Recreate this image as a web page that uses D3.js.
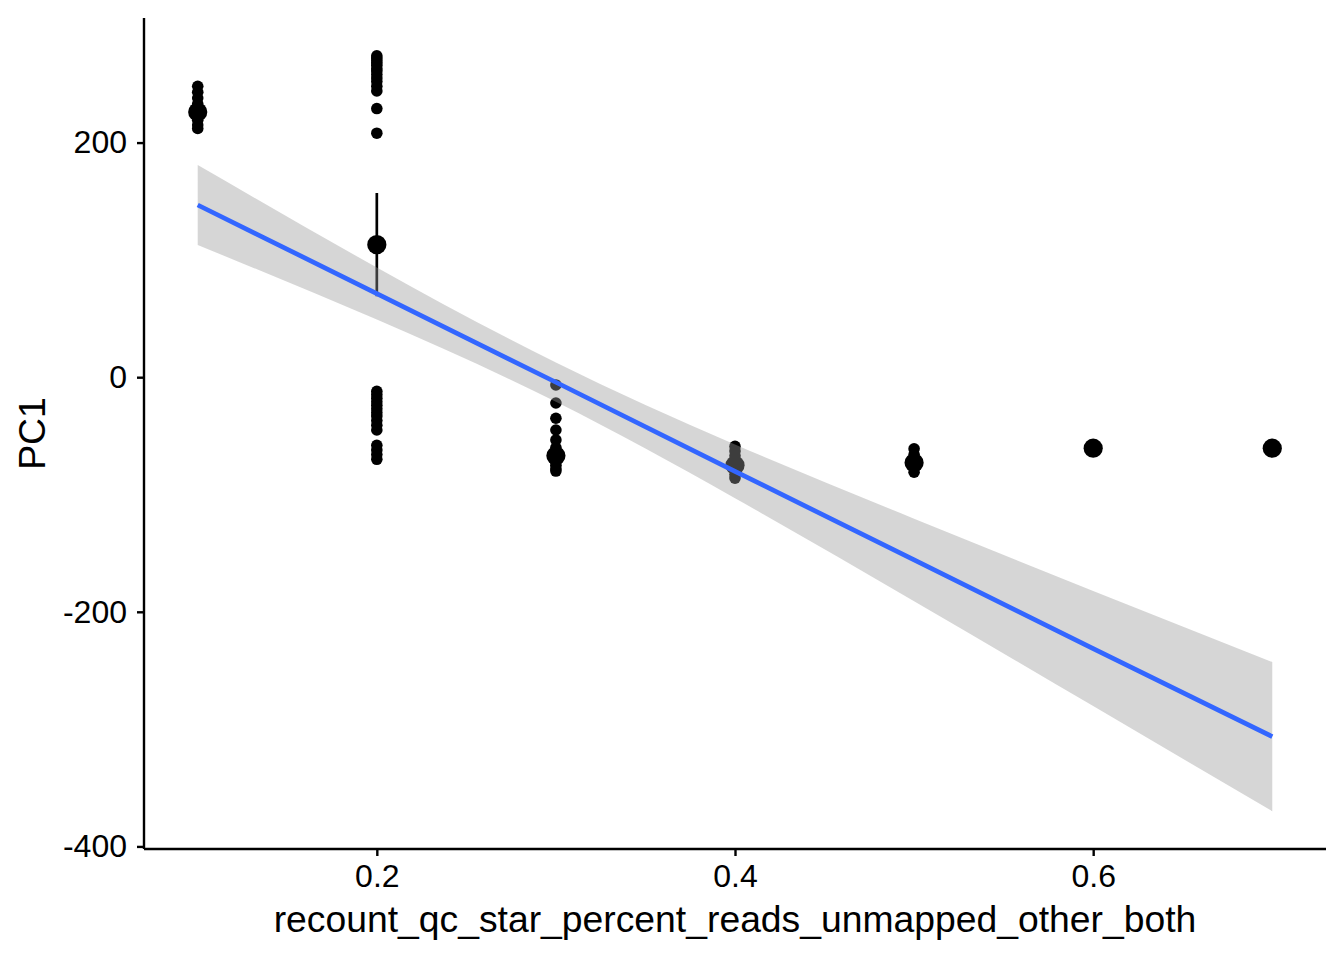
<!DOCTYPE html>
<html>
<head>
<meta charset="utf-8">
<script src="https://cdn.jsdelivr.net/npm/d3@7"></script>
<style>
  body { margin: 0; background: #fff; }
  text { font-family: "Liberation Sans", Arial, Helvetica, sans-serif; }
</style>
</head>
<body>
<svg id="chart"></svg>
<script>
// raw PC1 values per x group
var groups = [0.1, 0.2, 0.3, 0.4, 0.5, 0.6, 0.7];
var pc1_01 = [248, 243, 238, 233, 229, 226, 223, 219, 215, 212];
var pc1_02 = [274, 272, 270, 268, 266, 263, 261, 258, 255, 252, 248, 244, 229, 208,
              -12, -15, -18, -21, -24, -27, -30, -33, -37, -41, -45, -58, -62, -66, -70];
var pc1_03 = [-6.6, -22, -35, -45, -53.5, -60, -63, -66, -69, -72, -75, -78, -80];
var pc1_04 = [-59, -63, -67, -71, -75, -79, -83, -86];
var pc1_05 = [-61, -66, -70, -74, -77, -81];
var pc1_06 = [-60.5];
var pc1_07 = [-60.5];

// group means and error bar ends
var meanPC1 = [226, 113, -67, -75, -73, -60.5, -60.5];
var errLow = [222, 69, -71, -78, -76, -60.5, -60.5];
var errHigh = [230, 157, -63, -72, -70, -60.5, -60.5];

// regression line with confidence band
var fitX = [0.1, 0.2, 0.3, 0.4, 0.5, 0.6, 0.7];
var fitY = [146.8, 71.3, -4.3, -80.2, -155.8, -231.4, -306.4];
var ciHigh = [180.9, 93.5, 12.5, -57.3, -120.6, -182.2, -242.8];
var ciLow = [112.7, 49.1, -21.0, -103.2, -190.9, -280.4, -370.0];

var xTicks = [0.2, 0.4, 0.6];
var yTicks = [200, 0, -200, -400];

var W = 1344, H = 960;
var plotLeft = 144, plotRight = 1326, plotTop = 18, plotBottom = 849;

var svg = d3.select("#chart")
    .attr("width", W)
    .attr("height", H);

var xScale = d3.scaleLinear().domain([0.07, 0.73]).range([plotLeft, plotRight]);
var yScale = d3.scaleLinear().domain([-402.2, 306.2]).range([plotBottom, plotTop]);

var raw = [pc1_01, pc1_02, pc1_03, pc1_04, pc1_05, pc1_06, pc1_07];
var points = [];
raw.forEach(function(vals, i) {
    vals.forEach(function(v) { points.push({x: groups[i], y: v}); });
});

// individual points
svg.append("g").selectAll("circle")
    .data(points)
    .enter().append("circle")
    .attr("cx", function(d) { return xScale(d.x); })
    .attr("cy", function(d) { return yScale(d.y); })
    .attr("r", 5.8)
    .attr("fill", "#000");

// mean +/- se
var summary = groups.map(function(g, i) {
    return {x: g, m: meanPC1[i], lo: errLow[i], hi: errHigh[i]};
});
svg.append("g").selectAll("line")
    .data(summary)
    .enter().append("line")
    .attr("x1", function(d) { return xScale(d.x); })
    .attr("x2", function(d) { return xScale(d.x); })
    .attr("y1", function(d) { return yScale(d.lo); })
    .attr("y2", function(d) { return yScale(d.hi); })
    .attr("stroke", "#000")
    .attr("stroke-width", 2.7);
svg.append("g").selectAll("circle")
    .data(summary)
    .enter().append("circle")
    .attr("cx", function(d) { return xScale(d.x); })
    .attr("cy", function(d) { return yScale(d.m); })
    .attr("r", 9.6)
    .attr("fill", "#000");

// confidence band
var band = fitX.map(function(x, i) { return {x: x, lo: ciLow[i], hi: ciHigh[i], y: fitY[i]}; });
var area = d3.area()
    .x(function(d) { return xScale(d.x); })
    .y0(function(d) { return yScale(d.lo); })
    .y1(function(d) { return yScale(d.hi); })
    .curve(d3.curveNatural);
svg.append("path")
    .datum(band)
    .attr("d", area)
    .attr("fill", "#999999")
    .attr("fill-opacity", 0.4);

var line = d3.line()
    .x(function(d) { return xScale(d.x); })
    .y(function(d) { return yScale(d.y); });
svg.append("path")
    .datum(band)
    .attr("d", line)
    .attr("fill", "none")
    .attr("stroke", "#3366FF")
    .attr("stroke-width", 4.7);

// axes
var xAxis = svg.append("g")
    .attr("transform", "translate(0," + plotBottom + ")")
    .call(d3.axisBottom(xScale)
        .tickValues(xTicks)
        .tickFormat(d3.format(".1f"))
        .tickSize(7)
        .tickSizeOuter(0)
        .tickPadding(8));

var yAxis = svg.append("g")
    .attr("transform", "translate(" + plotLeft + ",0)")
    .call(d3.axisLeft(yScale)
        .tickValues(yTicks)
        .tickFormat(function(d) { return String(d); })
        .tickSize(7)
        .tickSizeOuter(0)
        .tickPadding(10));

[xAxis, yAxis].forEach(function(ax) {
    ax.select(".domain").attr("stroke", "#000").attr("stroke-width", 2.4);
    ax.selectAll(".tick line").attr("stroke", "#000").attr("stroke-width", 2.4);
    ax.selectAll(".tick text")
        .attr("fill", "#000")
        .style("font-size", "32px")
        .style("font-family", '"Liberation Sans", Arial, sans-serif');
});
xAxis.select(".domain").attr("d", "M" + plotLeft + ",0H" + plotRight);
yAxis.select(".domain").attr("d", "M0," + plotTop + "V" + plotBottom);

// axis titles
svg.append("text")
    .attr("x", (plotLeft + plotRight) / 2)
    .attr("y", 932)
    .attr("text-anchor", "middle")
    .style("font-size", "37.3px")
    .text("recount_qc_star_percent_reads_unmapped_other_both");

svg.append("text")
    .attr("transform", "translate(45," + (plotTop + plotBottom) / 2 + ") rotate(-90)")
    .attr("text-anchor", "middle")
    .style("font-size", "37.3px")
    .text("PC1");
</script>
</body>
</html>
